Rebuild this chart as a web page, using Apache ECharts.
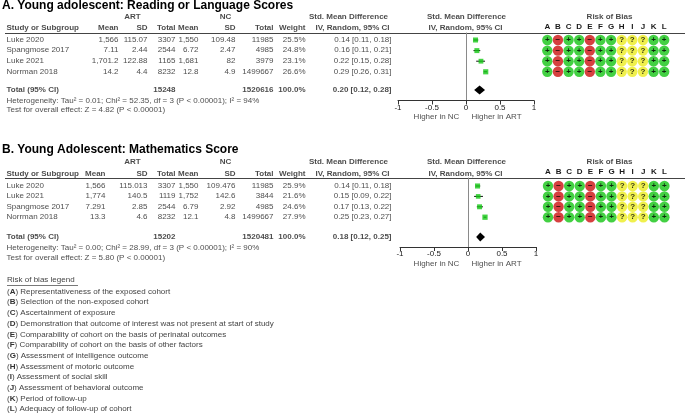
<!DOCTYPE html>
<html><head><meta charset="utf-8">
<script src="https://cdn.jsdelivr.net/npm/echarts@6/dist/echarts.min.js"></script>
<style>html,body{margin:0;padding:0;background:#fff}#c{width:685px;height:414px}</style>
</head><body><div id="c"></div>
<script>
// ================= DATA =================
const titleA = 'A. Young adolescent: Reading or Language Scores';
const studiesA = ['Luke 2020', 'Spangmose 2017', 'Luke 2021', 'Norrman 2018'];
const artMeanA = ['1,566', '7.11', '1,701.2', '14.2'];
const artSDA   = ['115.07', '2.44', '122.88', '4.4'];
const artNA    = [3307, 2544, 1165, 8232];
const ncMeanA  = ['1,550', '6.72', '1,681', '12.8'];
const ncSDA    = ['109.48', '2.47', '82', '4.9'];
const ncNA     = [11985, 4985, 3979, 1499667];
const weightA  = [25.5, 24.8, 23.1, 26.6];
const smdA     = [0.14, 0.16, 0.22, 0.29];
const loA      = [0.11, 0.11, 0.15, 0.26];
const hiA      = [0.18, 0.21, 0.28, 0.31];
const totalA   = [15248, 1520616, 0.20, 0.12, 0.28]; // artN, ncN, smd, lo, hi
const hetA  = 'Heterogeneity: Tau² = 0.01; Chi² = 52.35, df = 3 (P < 0.00001); I² = 94%';
const testA = 'Test for overall effect: Z = 4.82 (P < 0.00001)';
const robA  = ['+-++-++???++', '+-++-++???++', '+-++-++???++', '+-++-++???++'];

const titleB = 'B. Young Adolescent: Mathematics Score';
const studiesB = ['Luke 2020', 'Luke 2021', 'Spangmose 2017', 'Norrman 2018'];
const artMeanB = ['1,566', '1,774', '7.291', '13.3'];
const artSDB   = ['115.013', '140.5', '2.85', '4.6'];
const artNB    = [3307, 1119, 2544, 8232];
const ncMeanB  = ['1,550', '1,752', '6.79', '12.1'];
const ncSDB    = ['109.476', '142.6', '2.92', '4.8'];
const ncNB     = [11985, 3844, 4985, 1499667];
const weightB  = [25.9, 21.6, 24.6, 27.9];
const smdB     = [0.14, 0.15, 0.17, 0.25];
const loB      = [0.11, 0.09, 0.13, 0.23];
const hiB      = [0.18, 0.22, 0.22, 0.27];
const totalB   = [15202, 1520481, 0.18, 0.12, 0.25];
const hetB  = 'Heterogeneity: Tau² = 0.00; Chi² = 28.99, df = 3 (P < 0.00001); I² = 90%';
const testB = 'Test for overall effect: Z = 5.80 (P < 0.00001)';
const robB  = ['+-++-++???++', '+-++-++???++', '+-++-++???++', '+-++-++???++'];

const robDomains = ['A','B','C','D','E','F','G','H','I','J','K','L'];
const xTicks = [-1, -0.5, 0, 0.5, 1];
const favourLabels = ['Higher in NC', 'Higher in ART'];

const legendTitle = 'Risk of bias legend ';
const legendLetters = ['A','B','C','D','E','F','G','H','I','J','K','L'];
const legendTexts = [
  'Representativeness of the exposed cohort',
  'Selection of the non-exposed cohort',
  'Ascertainment of exposure',
  'Demonstration that outcome of interest was not present at start of study',
  'Comparability of cohort on the basis of perinatal outcomes',
  'Comparability of cohort on the basis of other factors',
  'Assessment of intelligence outcome',
  'Assessment of motoric outcome',
  'Assessment of social skill',
  'Assessment of behavioral outcome',
  'Period of follow-up',
  'Adequacy of follow-up of cohort'
];

// ================= LAYOUT =================
const FONT = '"Liberation Sans", Arial, Helvetica, sans-serif';
const TXT = '#1a1a1a';
const layouts = [
  {top:0, h:135, y0:40, rowH:10.6, lineY:33, axisY:100.5, fL:398, fR:534, robL:542, robW:127.5,
   tY:6.5, grp:-2.17, hdr:-1.13, tot:4.72, het:5.75, test:6.65, artMeanX:119},
  {top:140, h:135, y0:186, rowH:10.4, lineY:178, axisY:247, fL:400, fR:536, robL:542.7, robW:127,
   tY:151, grp:-2.3, hdr:-1.15, tot:4.9, het:6.0, test:6.92, artMeanX:106}
];
const COLX = {artSD:148, artN:176, ncMean:199, ncSD:236, ncN:274, weight:306, ci:392};
const panels = [
  {title:titleA, studies:studiesA, artMean:artMeanA, artSD:artSDA, artN:artNA, ncMean:ncMeanA, ncSD:ncSDA, ncN:ncNA,
   w:weightA, smd:smdA, lo:loA, hi:hiA, tot:totalA, het:hetA, test:testA, rob:robA},
  {title:titleB, studies:studiesB, artMean:artMeanB, artSD:artSDB, artN:artNB, ncMean:ncMeanB, ncSD:ncSDB, ncN:ncNB,
   w:weightB, smd:smdB, lo:loB, hi:hiB, tot:totalB, het:hetB, test:testB, rob:robB}
];
const ROB_COL = {'+':'#14c414', '-':'#cc1010', '?':'#ecec20'};
const ROB_GLYPH = {'+':'+', '-':'−', '?':'?'};

function ci(s,l,h){ return s.toFixed(2)+' ['+l.toFixed(2)+', '+h.toFixed(2)+']'; }

const grid=[], xAxis=[], yAxis=[], series=[], graphic=[];

panels.forEach((d, k) => {
  const L = layouts[k];
  // table grid
  const gT = grid.length;
  grid.push({left:0, top:L.top, width:685, height:L.h});
  xAxis.push({gridIndex:gT, type:'value', min:0, max:685, show:false});
  yAxis.push({gridIndex:gT, type:'value', inverse:true, show:false,
    min:(L.top-L.y0)/L.rowH, max:(L.top+L.h-L.y0)/L.rowH});
  const items = [];
  const T = (x, r, t, align, bold) => items.push({value:[x, r], t:String(t),
    label:{align:align||'right', fontWeight:bold?'bold':'normal'}});
  // group headers
  T(133, L.grp, 'ART', 'center', true);
  T(226, L.grp, 'NC', 'center', true);
  T(349, L.grp, 'Std. Mean Difference', 'center', true);
  T(467, L.grp, 'Std. Mean Difference', 'center', true);
  T(610, L.grp, 'Risk of Bias', 'center', true);
  // column headers
  T(7, L.hdr, 'Study or Subgroup', 'left', true);
  T(L.artMeanX, L.hdr, 'Mean', 'right', true);
  T(COLX.artSD, L.hdr, 'SD', 'right', true);
  T(COLX.artN, L.hdr, 'Total', 'right', true);
  T(COLX.ncMean, L.hdr, 'Mean', 'right', true);
  T(COLX.ncSD, L.hdr, 'SD', 'right', true);
  T(COLX.ncN, L.hdr, 'Total', 'right', true);
  T(COLX.weight, L.hdr, 'Weight', 'right', true);
  T(353, L.hdr, 'IV, Random, 95% CI', 'center', true);
  T(466, L.hdr, 'IV, Random, 95% CI', 'center', true);
  // rows
  d.studies.forEach((s, i) => {
    T(7, i, s, 'left');
    T(L.artMeanX, i, d.artMean[i]);
    T(COLX.artSD, i, d.artSD[i]);
    T(COLX.artN, i, d.artN[i]);
    T(COLX.ncMean, i, d.ncMean[i]);
    T(COLX.ncSD, i, d.ncSD[i]);
    T(COLX.ncN, i, d.ncN[i]);
    T(COLX.weight, i, d.w[i].toFixed(1)+'%');
    T(COLX.ci, i, ci(d.smd[i], d.lo[i], d.hi[i]));
  });
  // total
  T(7, L.tot, 'Total (95% CI)', 'left', true);
  T(COLX.artN, L.tot, d.tot[0], 'right', true);
  T(COLX.ncN, L.tot, d.tot[1], 'right', true);
  T(COLX.weight, L.tot, d.w.reduce((a,b)=>a+b,0).toFixed(1)+'%', 'right', true);
  T(COLX.ci, L.tot, ci(d.tot[2], d.tot[3], d.tot[4]), 'right', true);
  T(7, L.het, d.het, 'left');
  T(7, L.test, d.test, 'left');
  // favour labels under forest axis
  const favR = (L.axisY + 17 - L.y0)/L.rowH;
  T(437, favR, favourLabels[0], 'center');
  T(497, favR, favourLabels[1], 'center');

  series.push({type:'scatter', xAxisIndex:gT, yAxisIndex:gT, data:items, symbolSize:1, silent:true,
    itemStyle:{color:'rgba(0,0,0,0)'}, emphasis:{disabled:true}, clip:false,
    label:{show:true, position:[0,0], verticalAlign:'middle', fontSize:8, fontFamily:FONT, color:TXT,
      formatter:p=>p.data.t}});

  // forest grid
  const yMin = (L.lineY-L.y0)/L.rowH, yMax = (L.axisY-L.y0)/L.rowH;
  const gF = grid.length;
  grid.push({left:L.fL, top:L.lineY, width:L.fR-L.fL, height:L.axisY-L.lineY});
  xAxis.push({gridIndex:gF, type:'value', min:xTicks[0], max:xTicks[xTicks.length-1], interval:0.5,
    axisLine:{onZero:false, lineStyle:{color:'#333', width:1}},
    axisTick:{length:4, lineStyle:{color:'#333'}},
    axisLabel:{fontSize:8, fontFamily:FONT, color:TXT, margin:3}, splitLine:{show:false}});
  yAxis.push({gridIndex:gF, type:'value', inverse:true, min:yMin, max:yMax,
    axisLine:{show:true, onZero:true, lineStyle:{color:'#8a8a8a', width:1}},
    axisTick:{show:false}, axisLabel:{show:false}, splitLine:{show:false}});
  series.push({type:'custom', xAxisIndex:gF, yAxisIndex:gF, silent:true, clip:false,
    data:d.smd.map((s,i)=>[d.lo[i], d.hi[i], i]),
    encode:{x:[0,1], y:2},
    renderItem:(params, api)=>{
      const a = api.coord([api.value(0), api.value(2)]);
      const b = api.coord([api.value(1), api.value(2)]);
      return {type:'line', shape:{x1:a[0], y1:a[1], x2:b[0], y2:b[1]}, style:{stroke:'#111', lineWidth:1}};
    }});
  series.push({type:'scatter', xAxisIndex:gF, yAxisIndex:gF, silent:true, emphasis:{disabled:true},
    data:d.smd.map((s,i)=>[s, i, d.w[i]]), symbol:'rect',
    symbolSize:v=>5*Math.sqrt(v[2]/25), itemStyle:{color:'#14c814'}});
  series.push({type:'custom', xAxisIndex:gF, yAxisIndex:gF, silent:true, clip:false,
    data:[[d.tot[2], d.tot[3], d.tot[4], L.tot]],
    encode:{x:[0,1,2], y:3},
    renderItem:(params, api)=>{
      const r = api.value(3);
      const c = api.coord([api.value(0), r]);
      const l = api.coord([api.value(1), r]);
      const h = api.coord([api.value(2), r]);
      const hh = 4.5;
      return {type:'polygon', shape:{points:[[l[0],c[1]],[c[0],c[1]-hh],[h[0],c[1]],[c[0],c[1]+hh]]},
        style:{fill:'#000'}};
    }});

  // risk of bias grid
  const gR = grid.length;
  grid.push({left:L.robL, top:L.lineY, width:L.robW, height:L.axisY-L.lineY});
  xAxis.push({gridIndex:gR, type:'category', data:robDomains, position:'top', boundaryGap:true,
    axisLine:{show:false}, axisTick:{show:false},
    axisLabel:{fontSize:8, fontFamily:FONT, fontWeight:'bold', color:TXT, margin:2}});
  yAxis.push({gridIndex:gR, type:'value', inverse:true, min:yMin, max:yMax, show:false});
  const robItems = [];
  d.rob.forEach((row, i) => row.split('').forEach((c, j) => robItems.push({
    value:[j, i], g:ROB_GLYPH[c], itemStyle:{color:ROB_COL[c]}})));
  series.push({type:'scatter', xAxisIndex:gR, yAxisIndex:gR, silent:true, emphasis:{disabled:true},
    data:robItems, symbol:'circle', symbolSize:10.4,
    label:{show:true, position:'inside', formatter:p=>p.data.g, fontSize:8, fontWeight:'bold',
      fontFamily:FONT, color:'#000'}});

  // decorations: title and header rule
  graphic.push({type:'text', left:2, top:L.tY-7, style:{text:d.title, font:'bold 12px '+FONT, fill:'#000'}});
  graphic.push({type:'line', shape:{x1:5, y1:L.lineY+0.5, x2:685, y2:L.lineY+0.5}, style:{stroke:'#444', lineWidth:1}});
});

// legend block
graphic.push({type:'text', left:7, top:276, style:{text:legendTitle, font:'8px '+FONT, fill:'#444'}});
graphic.push({type:'line', shape:{x1:7, y1:285.5, x2:78, y2:285.5}, style:{stroke:'#555', lineWidth:0.8}});
legendTexts.forEach((t, i) => {
  graphic.push({type:'text', left:7, top:287.5 + i*10.7,
    style:{text:'({b|'+legendLetters[i]+'}) '+t, font:'8px '+FONT, fill:'#444',
      rich:{b:{fontWeight:'bold', fontSize:8, fontFamily:FONT, fill:'#333'}}}});
});

const chart = echarts.init(document.getElementById('c'));
chart.setOption({animation:false, backgroundColor:'#fff', grid, xAxis, yAxis, series, graphic});
</script></body></html>
